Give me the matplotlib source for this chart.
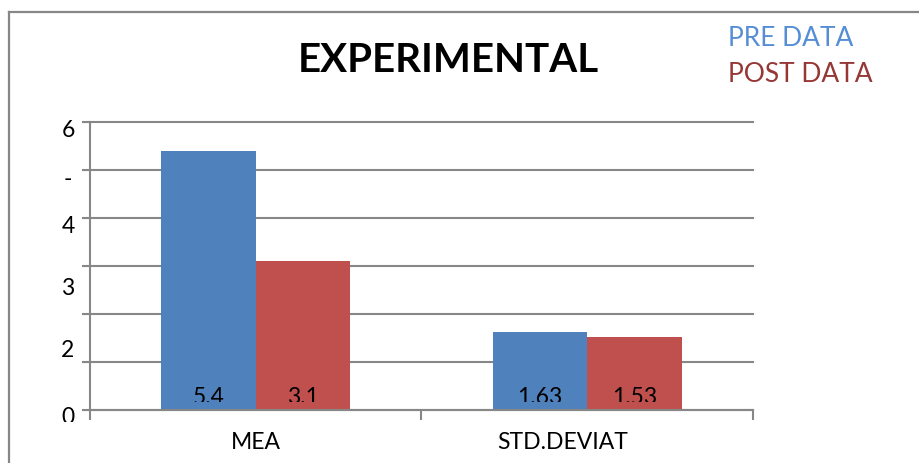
import matplotlib
matplotlib.use("Agg")
import matplotlib.pyplot as plt
from matplotlib.lines import Line2D
from matplotlib.transforms import Bbox, TransformedBbox, blended_transform_factory, ScaledTranslation

# ---- data ----
categories = ["MEA", "STD.DEVIAT"]
pre_values = [5.4, 1.63]
post_values = [3.1, 1.53]
pre_labels = ["5.4", "1.63"]
post_labels = ["3.1", "1.53"]
series_names = ["PRE DATA", "POST DATA"]
title = "EXPERIMENTAL"
y_tick_labels = ["6", "-", "4", "3", "2", "0"]
y_tick_label_pos = [5.708, 4.69, 3.708, 2.417, 1.125, -0.271]   # baselines, data units

# ---- style ----
W, H = 920, 464
FONT = "Lato"
GRID = "#878787"
BLUE = "#4F81BD"
RED = "#C0504D"
LEG_BLUE = "#558ED5"
LEG_RED = "#953735"

plt.rcParams["font.family"] = [FONT, "DejaVu Sans"]

fig = plt.figure(figsize=(W / 100, H / 100), dpi=100)
fig.patch.set_facecolor("white")


def fx(px):
    return px / W


def fy(py):
    return 1 - py / H


# plot area in pixels
L, R, T, B = 90, 753, 123, 411
ax = fig.add_axes([fx(L), fy(B), fx(R) - fx(L), fy(T) - fy(B)])
ax.set_xlim(0, 2)
ax.set_ylim(0, 6)
ax.set_facecolor("none")

# outer chart frame (left and top edges)
fig.add_artist(Line2D([fx(9.5), fx(9.5)], [fy(13), 0], color=GRID, lw=1.6))
fig.add_artist(Line2D([fx(9.5), 1], [fy(13), fy(13)], color=GRID, lw=1.6))

# bars
n = len(categories)
bw = 1 / 3.5
centers = [i + 0.5 for i in range(n)]
ax.bar([c - bw / 2 for c in centers], pre_values, width=bw, color=BLUE, zorder=3)
ax.bar([c + bw / 2 for c in centers], post_values, width=bw, color=RED, zorder=3)

# value labels near the base of each bar (lower edge cut off)
clip_low = (B - 403) / 48.0
clip = TransformedBbox(Bbox.from_extents(0, clip_low, 2, 6), ax.transData)
for c, pl, ql in zip(centers, pre_labels, post_labels):
    for x, s in ((c - bw / 2, pl), (c + bw / 2, ql)):
        t = ax.text(x, (B - 404) / 48.0, s, ha="center", va="baseline",
                    fontsize=16.5, color="black", zorder=4)
        t.set_clip_box(clip)
        t.set_clip_on(True)

# gridlines / spines
ax.set_yticks(range(0, 7))
ax.set_yticklabels([])
ax.yaxis.grid(True, color=GRID, lw=1.5, zorder=1)
for gl in ax.yaxis.get_gridlines():
    gl.set_clip_on(False)
ax.tick_params(axis="y", length=6, width=1.5, color=GRID, direction="out")
for s in ("top", "right"):
    ax.spines[s].set_visible(False)
for s in ("left", "bottom"):
    ax.spines[s].set_color(GRID)
    ax.spines[s].set_linewidth(1.5)
ax.spines["bottom"].set_zorder(5)

ax.set_xticks([0, 1, 2])
ax.set_xticklabels([])
ax.tick_params(axis="x", length=7, width=1.5, color=GRID, direction="out")

# y labels
for s, yp in zip(y_tick_labels, y_tick_label_pos):
    t = fig.text(fx(68), fy(B - yp * 48), s, ha="center", va="baseline",
                 fontsize=16.5, color="black")
    if yp < 0:
        t.set_clip_box(TransformedBbox(Bbox.from_extents(0, fy(423), 1, 1), fig.transFigure))
        t.set_clip_on(True)

# category labels
cat_shift = [0, -25]
xt = blended_transform_factory(ax.transData, ax.transAxes)
for c, s, dx in zip(centers, categories, cat_shift):
    ax.text(c, (B - 449) / (B - T), s, ha="center", va="baseline", fontsize=16.5,
            color="black",
            transform=xt + ScaledTranslation(dx / 100, 0, fig.dpi_scale_trans),
            clip_on=False)

# title and series key
fig.text(fx(448), fy(72), title, ha="center", va="baseline", fontsize=29,
         fontweight="bold", color="black")
fig.text(fx(728), fy(46), series_names[0], ha="left", va="baseline", fontsize=19,
         color=LEG_BLUE)
fig.text(fx(728), fy(82), series_names[1], ha="left", va="baseline", fontsize=19,
         color=LEG_RED)

fig.savefig("out.png", dpi=100, facecolor="white")
